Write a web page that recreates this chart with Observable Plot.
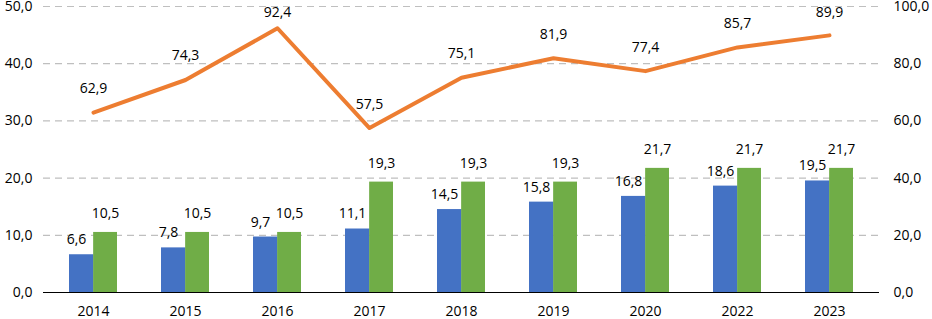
<!DOCTYPE html>
<html>
<head>
<meta charset="utf-8">
<script src="https://cdn.jsdelivr.net/npm/d3@7"></script>
<script src="https://cdn.jsdelivr.net/npm/@observablehq/plot@0.6"></script>
<style>
  html, body { margin: 0; padding: 0; background: #fff; }
  #chart svg { display: block; }
</style>
</head>
<body>
<div id="chart"></div>
<script>
const years = ["2014", "2015", "2016", "2017", "2018", "2019", "2020", "2022", "2023"];
const blueValues = [6.6, 7.8, 9.7, 11.1, 14.5, 15.8, 16.8, 18.6, 19.5];
const greenValues = [10.5, 10.5, 10.5, 19.3, 19.3, 19.3, 21.7, 21.7, 21.7];
const lineValues = [62.9, 74.3, 92.4, 57.5, 75.1, 81.9, 77.4, 85.7, 89.9];
const leftTicks = [0, 10, 20, 30, 40, 50];
const rightTicks = [0, 20, 40, 60, 80, 100];

const fmt = v => v.toFixed(1).replace(".", ",");
const blue = years.map((y, i) => ({year: y, value: blueValues[i]}));
const green = years.map((y, i) => ({year: y, value: greenValues[i]}));
const line = years.map((y, i) => ({year: y, value: lineValues[i]}));

const font = "'Open Sans', sans-serif";

const chart = Plot.plot({
  width: 932,
  height: 319,
  marginLeft: 43,
  marginRight: 53,
  marginTop: 6,
  marginBottom: 27,
  style: {fontFamily: font, fontSize: "14px", color: "#000", background: "#fff"},
  x: {domain: years, paddingInner: 0.48, paddingOuter: 0.245, label: null},
  y: {domain: [0, 50], label: null},
  marks: [
    Plot.ruleY(leftTicks.slice(1), {stroke: "#bfbfbf", strokeDasharray: "7,5", strokeWidth: 1.2}),
    Plot.barY(blue, {x: "year", y: "value", fill: "#4472C4", insetRight: 23.5, insetLeft: 0}),
    Plot.barY(green, {x: "year", y: "value", fill: "#70AD47", insetLeft: 24.15, insetRight: 0}),
    Plot.ruleY([0], {stroke: "#000", strokeWidth: 1.2}),
    Plot.line(line, {x: "year", y: d => d.value / 2, stroke: "#ED7D31", strokeWidth: 4}),
    Plot.text(blue, {x: "year", y: "value", text: d => fmt(d.value), dx: -17, dy: -15, fontSize: 14, fill: "#000"}),
    Plot.text(green, {x: "year", y: "value", text: d => fmt(d.value), dx: 12, dy: -19, fontSize: 14, fill: "#000"}),
    Plot.text(line, {x: "year", y: d => Math.min(d.value / 2, 44.7), text: d => fmt(d.value), dy: -24, fontSize: 14, fill: "#000"}),
    Plot.axisX({tickSize: 0, tickPadding: 14, fontSize: 14, label: null}),
    Plot.axisY(leftTicks, {anchor: "left", tickSize: 0, tickPadding: 11, tickFormat: fmt, fontSize: 14, label: null}),
    Plot.axisY(rightTicks.map(v => v / 2), {anchor: "right", tickSize: 0, tickPadding: 14, tickFormat: v => fmt(v * 2), fontSize: 14, label: null})
  ]
});
document.getElementById("chart").appendChild(chart);
</script>
</body>
</html>
